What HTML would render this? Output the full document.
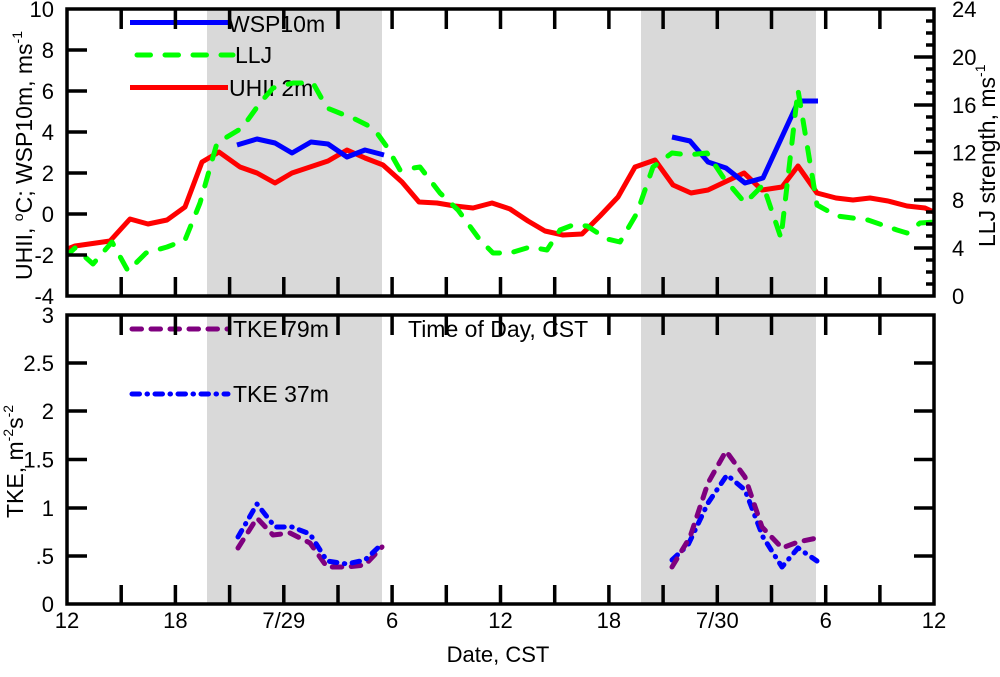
<!DOCTYPE html>
<html><head><meta charset="utf-8"><style>
html,body{margin:0;padding:0;background:#fff;}
svg{display:block;}
text{font-family:"Liberation Sans",Arial,sans-serif;fill:#000;}
</style></head><body>
<svg width="1000" height="677" viewBox="0 0 1000 677" xmlns="http://www.w3.org/2000/svg">
<defs>
<clipPath id="c1"><rect x="67" y="9" width="867" height="287"/></clipPath>
<clipPath id="c2"><rect x="67" y="315" width="867" height="289"/></clipPath>
</defs>
<rect width="1000" height="677" fill="#fff"/>
<!-- shading -->
<rect x="207" y="9" width="175" height="287" fill="#d9d9d9"/>
<rect x="641" y="9" width="175" height="287" fill="#d9d9d9"/>
<rect x="207" y="315" width="175" height="289" fill="#d9d9d9"/>
<rect x="641" y="315" width="175" height="289" fill="#d9d9d9"/>

<!-- legend text -->
<g font-size="23">
<text x="228" y="32">WSP10m</text>
<text x="235" y="63">LLJ</text>
<text x="229" y="96">UHII 2m</text>
<text x="233" y="337">TKE 79m</text>
<text x="233" y="402">TKE 37m</text>
<text x="408" y="337">Time of Day, CST</text>
</g>
<!-- legend lines -->
<g fill="none" stroke-width="5">
<line x1="130" y1="22.5" x2="228" y2="22.5" stroke="#0000ff"/>
<line x1="137" y1="55" x2="233" y2="55" stroke="#00ff00" stroke-dasharray="13.5 14.5" stroke-linecap="round"/>
<line x1="130" y1="87.5" x2="228" y2="87.5" stroke="#ff0000"/>
<line x1="132" y1="329" x2="228" y2="329" stroke="#7f007f" stroke-dasharray="9.5 9.5" stroke-linecap="round"/>
<line x1="132" y1="394" x2="228" y2="394" stroke="#0000ff" stroke-dasharray="7.5 7.5 0.5 7.5" stroke-linecap="round"/>
</g>

<!-- top panel data -->
<g clip-path="url(#c1)" fill="none" stroke-width="5" stroke-linejoin="round">
<polyline stroke="#ff0000" points="65,250 75,246 110,241 130,219 148,224 167,220 185,207 202,162 219,152 240,167 257,173 275,183 292,173 310,167 328,161 347,150 365,158 383,165 402,182 419,202 437,203 455,206 473,208 492,203 510,209 528,221 545,231 563,235 582,234 600,216 618,197 635,167 655,160 673,185 691,193 708,190 727,181 744,173 762,190 782,187 798,166 817,193 836,198 853,200 870,198 888,201 907,206 925,208 936,213"/>
<polyline stroke="#0000ff" points="237,145 257,139 275,143 292,153 311,142 328,144 347,157 365,150 384,155"/>
<polyline stroke="#0000ff" points="672,137 690,141 708,162 726,168 745,183 763,178 798,102 802,101 818,101"/>
<polyline stroke="#00ff00" stroke-dasharray="13.5 14.5" stroke-linecap="round" points="65,257 75,248 93,264 112,242 128,271 146,253 167,247 185,240 200,203 217,143 242,128 260,103 273,88 293,83 313,83 327,108 342,114 353,118 367,125 377,133 387,147 400,170 420,167 440,193 458,210 480,240 493,253 510,253 530,247 547,250 560,230 573,225 587,226 607,239 620,242 637,213 653,167 672,153 688,155 707,153 723,177 745,203 763,185 781,238 798,90 817,205 837,216 868,220 897,230 907,233 920,223 936,222"/>
</g>

<!-- bottom panel data -->
<g clip-path="url(#c2)" fill="none" stroke-width="5" stroke-linejoin="round" stroke-linecap="round">
<polyline stroke="#7f007f" stroke-dasharray="9.5 9.5" points="238,548 257,518 273,535 290,533 310,543 327,567 347,567 365,565 382,547"/>
<polyline stroke="#0000ff" stroke-dasharray="7.5 7.5 0.5 7.5" points="238,537 257,504 275,527 292,527 310,534 327,561 347,564 365,560 383,543"/>
<polyline stroke="#0000ff" stroke-dasharray="7.5 7.5 0.5 7.5" points="672,560 688,545 708,503 727,475 745,490 763,537 782,567 798,548 817,561"/>
<polyline stroke="#7f007f" stroke-dasharray="9.5 9.5" points="672,567 690,537 708,483 726,451 745,477 762,527 782,548 798,542 817,538"/>
</g>

<!-- frames -->
<g fill="none" stroke="#000" stroke-width="3.5">
<rect x="67" y="9" width="867" height="287"/>
<rect x="67" y="315" width="867" height="289"/>
</g>

<!-- ticks -->
<g stroke="#000" stroke-width="3.5">
<path d="M121.2,9v20M175.4,9v20M229.6,9v20M283.8,9v20M338,9v20M392.1,9v20M446.3,9v20M500.5,9v20M554.7,9v20M608.9,9v20M663.1,9v20M717.3,9v20M771.5,9v20M825.7,9v20M879.9,9v20"/>
<path d="M121.2,296v-19M175.4,296v-19M229.6,296v-19M283.8,296v-19M338,296v-19M392.1,296v-19M446.3,296v-19M500.5,296v-19M554.7,296v-19M608.9,296v-19M663.1,296v-19M717.3,296v-19M771.5,296v-19M825.7,296v-19M879.9,296v-19"/>
<path d="M121.2,315v20M175.4,315v20M229.6,315v20M283.8,315v20M338,315v20M392.1,315v20M446.3,315v20M500.5,315v20M554.7,315v20M608.9,315v20M663.1,315v20M717.3,315v20M771.5,315v20M825.7,315v20M879.9,315v20"/>
<path d="M121.2,604v-19M175.4,604v-19M229.6,604v-19M283.8,604v-19M338,604v-19M392.1,604v-19M446.3,604v-19M500.5,604v-19M554.7,604v-19M608.9,604v-19M663.1,604v-19M717.3,604v-19M771.5,604v-19M825.7,604v-19M879.9,604v-19"/>
<path d="M67,50h20M67,91h20M67,132h20M67,173h20M67,214h20M67,255h20"/>
<path d="M934,57h-20M934,105h-20M934,152.5h-20M934,200h-20M934,248h-20"/>
<path d="M934,21h-8M934,33h-8M934,45h-8M934,69h-8M934,81h-8M934,93h-8M934,117h-8M934,129h-8M934,141h-8M934,164.5h-8M934,176.5h-8M934,188.5h-8M934,212h-8M934,224h-8M934,236h-8M934,260h-8M934,272h-8M934,284h-8"/>
<path d="M67,363h20M67,411h20M67,459.5h20M67,508h20M67,556h20"/>
<path d="M934,363h-20M934,411h-20M934,459.5h-20M934,508h-20M934,556h-20"/>
</g>

<!-- tick labels -->
<g font-size="22" text-anchor="end">
<text x="54" y="17">10</text>
<text x="54" y="58">8</text>
<text x="54" y="99">6</text>
<text x="54" y="140">4</text>
<text x="54" y="181">2</text>
<text x="54" y="222">0</text>
<text x="54" y="263">-2</text>
<text x="54" y="304">-4</text>
<text x="54" y="323">3</text>
<text x="54" y="371">2.5</text>
<text x="54" y="419">2</text>
<text x="54" y="467.5">1.5</text>
<text x="54" y="516">1</text>
<text x="54" y="564">.5</text>
<text x="54" y="612">0</text>
</g>
<g font-size="22" text-anchor="start">
<text x="952" y="17">24</text>
<text x="952" y="65">20</text>
<text x="952" y="113">16</text>
<text x="952" y="160.5">12</text>
<text x="952" y="208">8</text>
<text x="952" y="256">4</text>
<text x="952" y="304">0</text>
</g>
<g font-size="22" text-anchor="middle">
<text x="67" y="628">12</text>
<text x="175.4" y="628">18</text>
<text x="283.8" y="628">7/29</text>
<text x="392.1" y="628">6</text>
<text x="500.5" y="628">12</text>
<text x="608.9" y="628">18</text>
<text x="717.3" y="628">7/30</text>
<text x="825.7" y="628">6</text>
<text x="934" y="628">12</text>
<text x="498" y="662" font-size="22">Date, CST</text>
</g>

<!-- axis titles -->
<text font-size="23" transform="translate(32,280) rotate(-90)">UHII, <tspan font-size="14" dy="-9">o</tspan><tspan dy="9">C; WSP10m, ms</tspan><tspan font-size="14" dy="-10">-1</tspan></text>
<text font-size="23" transform="translate(995,247) rotate(-90)">LLJ strength, ms<tspan font-size="14" dy="-10">-1</tspan></text>
<text font-size="23" transform="translate(23,518) rotate(-90)">TKE, m<tspan font-size="14" dy="-10">-2</tspan><tspan dy="10">s</tspan><tspan font-size="14" dy="-10">-2</tspan></text>
</svg>
</body></html>
